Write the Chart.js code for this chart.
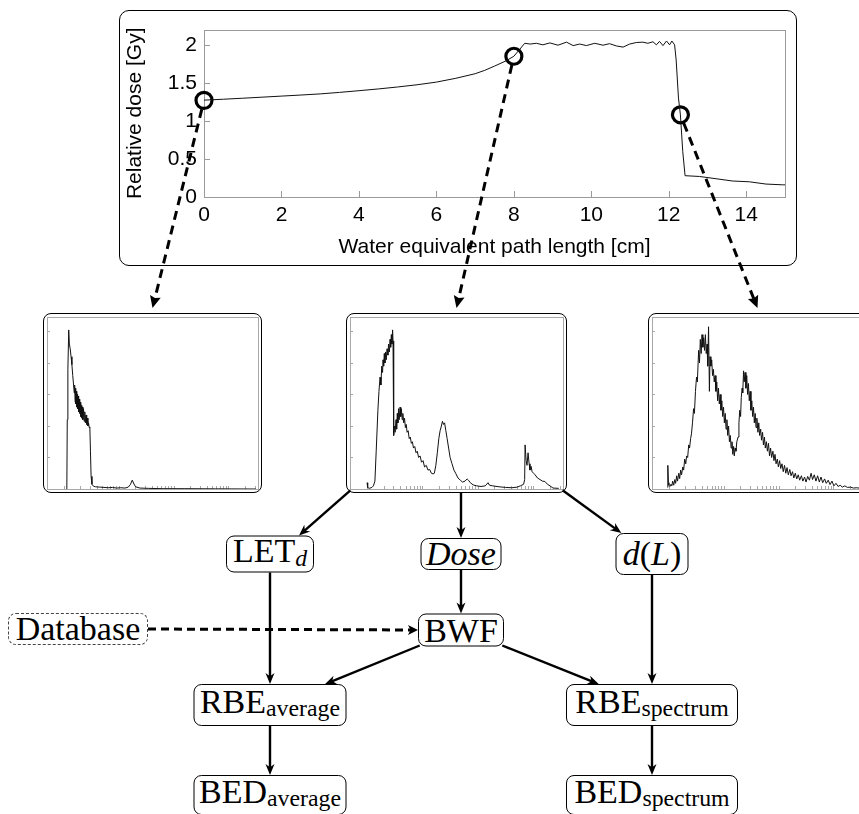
<!DOCTYPE html>
<html lang="en">
<head>
<meta charset="UTF-8">
<title>Dose profile, LET spectra and RBE workflow</title>
<script src="https://cdn.jsdelivr.net/npm/chart.js"></script>
<style>
  html, body { margin: 0; padding: 0; background: #fff; }
  body { width: 859px; height: 814px; position: relative; overflow: hidden; font-family: "Liberation Serif", serif; color: #000; }
  .frame { position: absolute; box-sizing: border-box; border: 1.5px solid #000; border-radius: 10px; pointer-events: none; }
  .plot { position: absolute; }
  .node { position: absolute; box-sizing: border-box; border: 1.3px solid #000; border-radius: 8px; display: flex; align-items: center; justify-content: center; font-size: 34px; line-height: 1; transform: translate(-50%, -50%); white-space: nowrap; background: #fff; }
  .node.dashed { border: 1px dashed #444; }
  .node.low { padding-bottom: 7px; }
  .sub { font-size: 0.7em; position: relative; top: 0.32em; }
  #links { position: absolute; left: 0; top: 0; pointer-events: none; }
</style>
</head>
<body>
  <div class="plot" id="doseWrap" style="left:119px; top:10px; width:678px; height:256px;"><canvas id="doseCanvas"></canvas></div>
  <div class="frame" style="left:119px; top:10px; width:678px; height:256px;"></div>

  <div class="plot" id="specA" style="left:43px; top:313px; width:219px; height:180px;"><canvas id="canvasA"></canvas></div>
  <div class="frame" id="boxA" style="left:43px; top:313px; width:219px; height:180px; border-radius:8px;"></div>
  <div class="plot" id="specB" style="left:346px; top:313px; width:221px; height:180px;"><canvas id="canvasB"></canvas></div>
  <div class="frame" id="boxB" style="left:346px; top:313px; width:221px; height:180px; border-radius:8px;"></div>
  <div class="plot" id="specC" style="left:648px; top:313px; width:219px; height:180px;"><canvas id="canvasC"></canvas></div>
  <div class="frame" id="boxC" style="left:648px; top:313px; width:219px; height:180px; border-radius:8px;"></div>

  <div class="node low" id="nLet" style="left:270px; top:554px; width:88px; height:37px;">LET<span class="sub"><i>d</i></span></div>
  <div class="node" id="nDose" style="left:461px; top:554px; width:81px; height:32px;"><i>Dose</i></div>
  <div class="node" id="nDL" style="left:652px; top:554px; width:73px; height:42px;"><i>d</i>(<i>L</i>)</div>
  <div class="node dashed" id="nDb" style="left:78px; top:629px; width:140px; height:32px;">Database</div>
  <div class="node" id="nBwf" style="left:461px; top:630px; width:86px; height:33px;">BWF</div>
  <div class="node low" id="nRbeA" style="left:270px; top:705px; width:153px; height:42px;">RBE<span class="sub">average</span></div>
  <div class="node low" id="nRbeS" style="left:652px; top:705px; width:172px; height:42px;">RBE<span class="sub">spectrum</span></div>
  <div class="node low" id="nBedA" style="left:270px; top:795px; width:153px; height:40px;">BED<span class="sub">average</span></div>
  <div class="node low" id="nBedS" style="left:652px; top:795px; width:172px; height:40px;">BED<span class="sub">spectrum</span></div>

  <svg id="links" width="859" height="814"></svg>

<script>
// depth dose curve (cm, Gy)
const doseDepth = [0, 0.5, 1, 1.5, 2, 2.5, 3, 3.5, 4, 4.5, 5, 5.5, 6, 6.5, 7, 7.25, 7.5, 7.8, 8.0, 8.15,
  8.28, 8.42, 8.58, 8.75, 8.93, 9.14, 9.36, 9.53, 9.70, 9.87, 10.09, 10.30, 10.47, 10.65, 10.82, 10.99,
  11.16, 11.33, 11.46, 11.59, 11.68, 11.76, 11.85, 11.94, 12.02, 12.08, 12.15, 12.19, 12.25, 12.30,
  12.36, 12.42, 12.79, 13.22, 13.65, 14.08, 14.51, 14.94, 15];
const doseValue = [1.273, 1.285, 1.298, 1.312, 1.326, 1.340, 1.355, 1.375, 1.397, 1.42, 1.446, 1.475, 1.51, 1.56, 1.62, 1.665, 1.72, 1.79, 1.85, 1.94,
  2.02, 2.01, 2.02, 2.00, 2.025, 1.995, 2.035, 1.99, 2.01, 1.99, 2.02, 1.995, 2.015, 1.985, 1.97, 2.01,
  2.03, 2.035, 2.02, 2.04, 2.0, 2.045, 1.99, 2.05, 2.0, 2.05, 2.0, 1.8, 1.3, 1.08,
  0.6, 0.28, 0.27, 0.24, 0.21, 0.2, 0.17, 0.16, 0.16];

// depths where the spectra are sampled
const markerDepth = [0, 8, 12.3];
const markerDose = [1.27, 1.85, 1.08];

// LET spectra, [position, frequency]
const spectrumEntrance = [[9.4,0],[9.6,2.2],[9.9,3.8],[10.3,5.05],[10.6,4.6],[11.0,4.45],[11.4,4.2],[11.8,3.95],[12.2,3.6],[12.6,3.3],
  [12.9,3.05],[13.1,3.3],[13.3,2.8],[13.5,3.2],[13.7,2.7],[13.9,3.1],[14.1,2.6],[14.3,3.0],[14.5,2.55],[14.8,2.95],[15.0,2.45],
  [15.3,2.85],[15.5,2.4],[15.8,2.75],[16.0,2.3],[16.3,2.65],[16.5,2.25],[16.8,2.6],[17.0,2.2],[17.3,2.55],[17.6,2.15],[17.9,2.45],
  [18.2,2.1],[18.5,2.35],[18.8,2.05],[19.1,2.25],[19.4,2.0],[19.7,2.1],[20.0,1.95],[20.3,1.97],[20.6,1.2],[20.9,0.4],[21.3,0.15],
  [22.0,0.09],[23,0.07],[25,0.06],[27,0.05],[29,0.04],[31,0.05],[33,0.03],[35,0.04],[37,0.03],[38.5,0.06],[39.5,0.14],[40.4,0.28],
  [41.2,0.16],[42,0.07],[44,0.03],[48,0.02],[55,0.01],[65,0.01],[80,0.005],[99,0]];
const spectrumPlateau = [[8.0,0.2],[8.3,0.05],[9,0.02],[10.3,0.05],[11.0,0.1],[11.7,0.25],[12.3,1.2],[13.1,2.5],[13.6,3.1],[14.1,3.55],
  [14.5,3.3],[14.9,3.9],[15.3,3.7],[15.5,4.1],[15.8,3.9],[16.1,4.3],[16.4,4.0],[16.7,4.35],[17.0,4.1],[17.4,4.45],[17.8,4.25],
  [18.1,4.6],[18.5,4.35],[18.8,4.75],[19.1,4.5],[19.4,4.9],[19.7,4.6],[20.0,5.05],[20.2,4.7],[20.4,3.2],[20.6,1.7],[20.9,2.0],
  [21.2,1.8],[21.6,2.2],[21.9,1.9],[22.2,2.4],[22.5,2.1],[22.8,2.55],[23.1,2.2],[23.5,2.6],[23.8,2.3],[24.1,2.55],[24.5,2.2],
  [24.8,2.4],[25.2,2.1],[25.6,2.25],[26.0,1.95],[26.4,2.05],[26.8,1.8],[27.3,1.85],[27.8,1.6],[28.3,1.65],[28.8,1.45],[29.3,1.5],
  [29.8,1.3],[30.4,1.35],[31.0,1.15],[31.6,1.2],[32.2,1.0],[32.9,1.05],[33.6,0.85],[34.3,0.9],[35.0,0.7],[35.8,0.75],[36.6,0.6],
  [37.4,0.62],[38.2,0.5],[39.0,0.48],[39.6,0.5],[40.3,0.75],[41.0,1.15],[41.7,1.6],[42.3,1.85],[42.9,2.0],[43.4,2.15],[43.9,2.05],
  [44.4,2.1],[45.0,1.85],[45.6,1.6],[46.3,1.3],[47.0,1.0],[47.9,0.8],[48.8,0.6],[49.6,0.5],[50.7,0.35],[51.8,0.28],[52.8,0.22],
  [54.0,0.25],[55.0,0.32],[55.6,0.28],[56.5,0.2],[57.8,0.13],[59.5,0.1],[61.5,0.08],[63.5,0.1],[64.8,0.2],[65.5,0.12],[67,0.1],
  [70,0.07],[73,0.05],[76,0.04],[78.5,0.06],[80.0,0.1],[81.5,0.15],[82.0,0.3],[82.2,1.4],[82.7,0.9],[83.1,0.75],[83.6,1.15],
  [84.1,0.8],[84.5,0.6],[85.0,0.72],[85.5,0.55],[86.2,0.5],[86.9,0.45],[88.0,0.35],[89.2,0.3],[90.3,0.25],[91.5,0.24],[92.7,0.15],
  [93.9,0.1],[95.3,0.03],[98,0.02]];
const spectrumDistal = [[7.4,0.05],[7.5,0.75],[7.8,0.2],[8.0,0.12],[8.5,0.08],[9.0,0.15],[9.4,0.1],[9.8,0.25],[10.3,0.12],[10.8,0.3],
  [11.2,0.18],[11.7,0.42],[12.1,0.25],[12.7,0.5],[13.1,0.33],[13.6,0.6],[14.0,0.45],[14.6,0.7],[15.0,0.6],[15.5,0.95],[16.0,0.8],
  [16.4,1.05],[16.9,1.0],[17.4,1.4],[17.8,1.3],[18.3,1.6],[18.7,1.75],[19.2,2.1],[19.7,2.55],[20.1,2.4],[20.6,3.1],[21.1,3.55],
  [21.5,3.4],[22.1,4.4],[22.5,4.0],[22.9,4.75],[23.3,4.3],[23.7,4.9],[24.1,4.5],[24.5,4.8],[24.9,4.4],[25.3,4.9],[25.7,4.3],
  [26.1,4.6],[26.4,3.9],[26.8,5.15],[27.2,3.1],[27.5,4.2],[27.9,3.9],[28.3,4.1],[28.7,3.6],[29.1,3.8],[29.5,3.4],[29.9,3.6],
  [30.3,3.1],[30.7,3.4],[31.1,2.8],[31.5,3.2],[31.9,2.7],[32.3,3.0],[32.7,2.5],[33.1,2.8],[33.5,2.3],[33.9,2.6],[34.3,2.1],
  [34.7,2.4],[35.1,1.9],[35.5,2.2],[35.9,1.7],[36.3,2.0],[36.7,1.5],[37.1,1.7],[37.5,1.3],[37.9,1.5],[38.3,1.1],[38.7,1.35],
  [39.0,1.05],[39.4,1.3],[39.8,1.2],[40.2,1.5],[40.8,1.65],[41.2,2.1],[41.6,2.5],[42.0,2.3],[42.3,2.9],[42.7,3.2],[43.0,3.05],
  [43.4,3.75],[43.7,3.4],[44.1,3.7],[44.5,3.2],[44.9,3.6],[45.3,3.0],[45.7,3.35],[46.1,2.8],[46.5,3.1],[46.9,2.5],[47.3,2.8],
  [47.7,2.3],[48.1,2.6],[48.5,2.1],[48.9,2.4],[49.3,1.95],[49.7,2.25],[50.2,1.8],[50.6,2.1],[51.0,1.7],[51.5,1.9],[51.9,1.55],
  [52.4,1.8],[52.8,1.4],[53.3,1.65],[53.7,1.3],[54.2,1.5],[54.7,1.2],[55.2,1.45],[55.7,1.05],[56.2,1.3],[56.7,1.0],[57.3,1.2],
  [57.8,0.9],[58.3,1.1],[58.8,0.8],[59.4,0.95],[59.9,0.7],[60.5,0.9],[61.0,0.65],[61.6,0.8],[62.2,0.55],[62.8,0.75],[63.4,0.5],
  [64.0,0.68],[64.6,0.45],[65.3,0.62],[65.9,0.42],[66.6,0.55],[67.2,0.35],[67.9,0.5],[68.6,0.32],[69.3,0.45],[70.0,0.28],
  [70.8,0.42],[71.5,0.25],[72.3,0.38],[73.0,0.22],[73.8,0.4],[74.6,0.28],[75.4,0.5],[76.1,0.3],[76.9,0.45],[77.7,0.25],[78.5,0.42],
  [79.3,0.22],[80.1,0.38],[80.9,0.2],[81.8,0.32],[82.6,0.18],[83.5,0.28],[84.4,0.14],[85.3,0.25],[86.2,0.1],[87.2,0.18],[88.2,0.08],
  [89.2,0.12],[90.2,0.06],[91.4,0.1],[92.6,0.05],[94,0.06],[95.5,0.03],[97,0.04],[99,0.02]];

const spectrumYTicks = [1, 2, 3, 4, 5];
const spectrumXTicks = [8, 15.8, 20.4, 23.6, 26.2, 28.2, 30, 31.5, 32.8, 34, 41.8, 46.4, 49.6, 52.2, 54.2, 56, 57.5, 58.8,
  60, 67.8, 72.4, 75.6, 78.2, 80.2, 82, 83.5, 84.8, 86, 93.8, 98.4];

const sansFont = '"Liberation Sans", Arial, sans-serif';

// gray box round the plot area with short inward ticks
const framePlugin = {
  id: 'frame',
  beforeDatasetsDraw(chart, args, opts) {
    const { ctx, chartArea: a, scales } = chart;
    const xt = opts.xTicks || scales.x.ticks.map(t => t.value);
    const yt = opts.yTicks || scales.y.ticks.map(t => t.value);
    ctx.save();
    ctx.strokeStyle = opts.color || '#9a9a9a';
    ctx.lineWidth = 1;
    ctx.strokeRect(Math.round(a.left) + 0.5, Math.round(a.top) + 0.5, Math.round(a.right - a.left), Math.round(a.bottom - a.top));
    ctx.beginPath();
    xt.forEach(v => {
      const px = Math.round(scales.x.getPixelForValue(v)) + 0.5;
      ctx.moveTo(px, a.bottom); ctx.lineTo(px, a.bottom - opts.len);
    });
    yt.forEach(v => {
      const py = Math.round(scales.y.getPixelForValue(v)) + 0.5;
      ctx.moveTo(a.left, py); ctx.lineTo(a.left + opts.len, py);
    });
    ctx.stroke();
    ctx.restore();
  }
};

const doseChart = new Chart(document.getElementById('doseCanvas'), {
  type: 'scatter',
  data: {
    datasets: [{
      data: doseDepth.map((x, i) => ({ x, y: doseValue[i] })),
      showLine: true,
      borderColor: '#111',
      borderWidth: 1,
      pointRadius: 0
    }, {
      data: markerDepth.map((x, i) => ({ x, y: markerDose[i] })),
      pointRadius: 8,
      pointHoverRadius: 8,
      pointBorderWidth: 3.2,
      pointBorderColor: '#000',
      pointBackgroundColor: 'rgba(0,0,0,0)',
      clip: false
    }]
  },
  options: {
    responsive: true,
    maintainAspectRatio: false,
    animation: false,
    layout: { padding: { top: 8, right: 12, left: 0, bottom: 0 } },
    plugins: {
      legend: { display: false },
      tooltip: { enabled: false },
      frame: { len: 6 }
    },
    scales: {
      x: {
        type: 'linear', min: 0, max: 15,
        grid: { display: false, drawTicks: false },
        border: { display: false },
        ticks: { stepSize: 2, includeBounds: false, color: '#000', padding: 6, maxRotation: 0, font: { family: sansFont, size: 21 } },
        title: { display: true, text: 'Water equivalent path length [cm]', color: '#000', font: { family: sansFont, size: 21 }, padding: { top: 0, bottom: 6 } },
        afterFit(s) { s.height = 69; }
      },
      y: {
        min: 0, max: 2.2,
        grid: { display: false, drawTicks: false },
        border: { display: false },
        ticks: { stepSize: 0.5, includeBounds: false, color: '#000', padding: 7, font: { family: sansFont, size: 21 }, callback: v => String(v) },
        title: { display: true, text: 'Relative dose [Gy]', color: '#000', font: { family: sansFont, size: 21 }, padding: { top: 4, bottom: 2 } },
        afterFit(s) { s.width = 85; }
      }
    }
  },
  plugins: [framePlugin]
});

function spectrumChart(id, points) {
  return new Chart(document.getElementById(id), {
    type: 'scatter',
    data: {
      datasets: [{
        data: points.map(p => ({ x: p[0], y: p[1] })),
        showLine: true,
        borderColor: '#111',
        borderWidth: 1,
        pointRadius: 0
      }]
    },
    options: {
      responsive: true,
      maintainAspectRatio: false,
      animation: false,
      layout: { padding: { top: 4, right: 4, left: 4, bottom: 4 } },
      plugins: {
        legend: { display: false },
        tooltip: { enabled: false },
        frame: { len: 3, xTicks: spectrumXTicks, yTicks: spectrumYTicks, color: '#a8a8a8' }
      },
      scales: {
        x: { type: 'linear', min: 0, max: 100, display: false },
        y: { min: 0, max: 5.46, display: false }
      }
    },
    plugins: [framePlugin]
  });
}

spectrumChart('canvasA', spectrumEntrance);
spectrumChart('canvasB', spectrumPlateau);
spectrumChart('canvasC', spectrumDistal);

// ---- connectors ----
const NS = 'http://www.w3.org/2000/svg';
const svg = document.getElementById('links');

function pt(id, fx, fy) {
  const r = document.getElementById(id).getBoundingClientRect();
  return [r.left + fx * r.width, r.top + fy * r.height];
}

function arrow(p1, p2, o) {
  const [x1, y1] = p1, [x2, y2] = p2;
  const a = Math.atan2(y2 - y1, x2 - x1), c = Math.cos(a), s = Math.sin(a);
  const line = document.createElementNS(NS, 'line');
  line.setAttribute('x1', x1); line.setAttribute('y1', y1);
  line.setAttribute('x2', x2 - c * o.head * 0.6); line.setAttribute('y2', y2 - s * o.head * 0.6);
  line.setAttribute('stroke', '#000');
  line.setAttribute('stroke-width', o.width);
  if (o.dash) line.setAttribute('stroke-dasharray', o.dash);
  svg.appendChild(line);
  const hx = x2 - c * o.head, hy = y2 - s * o.head, w = o.headW / 2;
  const nx = x2 - c * o.head * o.notch, ny = y2 - s * o.head * o.notch;
  const head = document.createElementNS(NS, 'polygon');
  head.setAttribute('points', [[x2, y2], [hx - s * w, hy + c * w], [nx, ny], [hx + s * w, hy - c * w]].map(q => q.join(',')).join(' '));
  head.setAttribute('fill', '#000');
  svg.appendChild(head);
}

const solid = { width: 2.4, head: 11, headW: 9, notch: 0.7 };
const dashed = { width: 3, head: 12, headW: 11, notch: 0.85, dash: '9 6' };

// from the marked depths down to their spectra
const wrap = document.getElementById('doseWrap').getBoundingClientRect();
['boxA', 'boxB', 'boxC'].forEach((box, i) => {
  const cx = wrap.left + doseChart.scales.x.getPixelForValue(markerDepth[i]);
  const cy = wrap.top + doseChart.scales.y.getPixelForValue(markerDose[i]);
  const end = pt(box, 0.5, 0); end[1] -= 5;
  const a = Math.atan2(end[1] - cy, end[0] - cx);
  arrow([cx + 9 * Math.cos(a), cy + 9 * Math.sin(a)], end, dashed);
});

// workflow
const midBottom = pt('boxB', 0, 1)[1] - 1;
arrow(pt('boxB', 0.02, 0.985), pt('nLet', 0.83, 0), solid);
arrow([pt('nDose', 0.5, 0)[0], midBottom], pt('nDose', 0.5, 0), solid);
arrow(pt('boxB', 0.98, 0.985), pt('nDL', 0.08, 0), solid);
arrow(pt('nLet', 0.5, 1), pt('nRbeA', 0.5, 0), solid);
arrow(pt('nDose', 0.5, 1), pt('nBwf', 0.5, 0), solid);
arrow(pt('nDL', 0.5, 1), pt('nRbeS', 0.5, 0), solid);
arrow(pt('nDb', 1, 0.5), pt('nBwf', 0, 0.5), { width: 3, head: 10, headW: 10, notch: 0.75, dash: '8 5' });
arrow(pt('nBwf', 0.02, 0.97), pt('nRbeA', 0.86, 0), solid);
arrow(pt('nBwf', 0.98, 0.97), pt('nRbeS', 0.19, 0), solid);
arrow(pt('nRbeA', 0.5, 1), pt('nBedA', 0.5, 0), solid);
arrow(pt('nRbeS', 0.5, 1), pt('nBedS', 0.5, 0), solid);
</script>
</body>
</html>
